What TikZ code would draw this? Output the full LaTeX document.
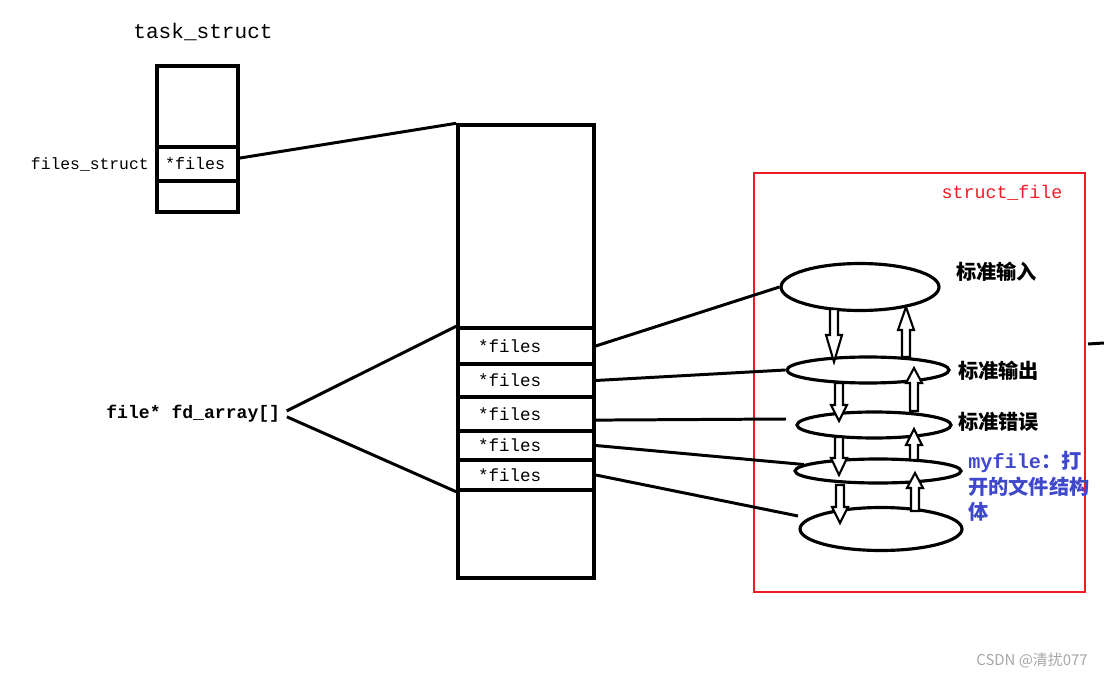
\documentclass[tikz,border=0pt]{standalone}
\usepackage{fontspec}
\setmonofont{Liberation Mono}
\newfontfamily\cjk{Noto Sans CJK SC}
\usetikzlibrary{shapes.geometric}
\definecolor{paintred}{RGB}{237,28,36}
\definecolor{paintblue}{RGB}{63,72,204}

\begin{document}
\begin{tikzpicture}[x=0.02cm, y=-0.02cm,
   box/.style={draw, line width=2pt, inner sep=0pt},
   fcell/.style={box, minimum width=2.72cm, text width=1.92cm, inner xsep=0.4cm,
                 align=left, font=\ttfamily\fontsize{10}{12}\selectfont},
   ring/.style={draw, ellipse, line width=1.8pt, inner sep=0pt},
   blockarr/.style={draw, line width=1.2pt, fill=white, line join=miter},
   link/.style={line width=1.7pt},
   cjklabel/.style={anchor=west, inner sep=0pt, font=\cjk\bfseries\fontsize{11.5}{14}\selectfont}]

\useasboundingbox (0,0) rectangle (1104,678);

\node[font=\ttfamily\fontsize{12}{14}\selectfont] (tasklabel) at (203,32) {task\_struct};
\node[box, minimum width=1.62cm, minimum height=2.92cm] (task) at (197.5,139) {};
\node[box, minimum width=1.62cm, minimum height=0.68cm, text width=1.30cm, inner xsep=0.16cm,
      align=left, font=\ttfamily\fontsize{9.5}{11}\selectfont] (sf) at (197.5,164) {*files};
\node[anchor=east, inner sep=0pt, font=\ttfamily\fontsize{9.3}{11}\selectfont] (sflabel) at (149,164) {files\_struct};

\node[box, minimum width=2.72cm, minimum height=9.06cm] (fdarr) at (526,351.5) {};
\foreach \n/\y/\h in {1/346/0.72cm, 2/380.5/0.66cm, 3/414/0.68cm, 4/445.5/0.58cm, 5/475/0.6cm}
  \node[fcell, minimum height=\h] (f\n) at (526,\y) {*files};

\node[anchor=west, inner sep=0pt, font=\ttfamily\bfseries\fontsize{10.3}{12}\selectfont] (fd) at (106,414) {file* fd\_array[]};

\draw[link] (sf.8) -- (fdarr.north west);
\draw[link, shorten <=0.14cm] (fd.east) -- (f1.north west);
\draw[link, shorten <=0.14cm] (fd.east) -- (f5.south west);

\draw[paintred, line width=1.3pt] (754,173) rectangle (1085,592);
\node[paintred, font=\ttfamily\fontsize{10.4}{12}\selectfont] (sflab) at (1002,193) {struct\_file};

\node[ring, minimum width=3.16cm, minimum height=0.94cm] (e1) at (860,287) {};
\node[ring, minimum width=3.24cm, minimum height=0.52cm] (e2) at (868,370) {};
\node[ring, minimum width=3.08cm, minimum height=0.52cm] (e3) at (874,425) {};
\node[ring, minimum width=3.32cm, minimum height=0.48cm] (e4) at (878,471) {};
\node[ring, minimum width=3.24cm, minimum height=0.86cm] (e5) at (881,529) {};

\coordinate (t3) at (786,419);
\coordinate (t5) at (798,516);
\draw[link] (f1.east) -- (e1.west);
\draw[link] (f2.east) -- (e2.west);
\draw[link] (f3.-5) -- (t3);
\draw[link] (f4.east) -- (e4.175);
\draw[link] (f5.east) -- (t5);

\foreach \x/\ya/\yh/\yb in {834/309/335/362, 839/383/405/421, 839/437/458/475, 840/485/507/523,
                            906/357/330/307, 914/411/383/368, 914/460/445/429, 915/511/488/473}
  \draw[blockarr] ({\x-4},\ya) -- ({\x-4},\yh) -- ({\x-8},\yh) -- (\x,\yb)
                  -- ({\x+8},\yh) -- ({\x+4},\yh) -- ({\x+4},\ya) -- cycle;

\node[cjklabel] (in) at (956,272) {标准输入};
\node[cjklabel] (out) at (958,371) {标准输出};
\node[cjklabel] (err) at (958,422) {标准错误};
\node[anchor=north west, inner sep=0pt, align=left, paintblue,
      font=\cjk\bfseries\fontsize{11.5}{14.5}\selectfont] (my) at (968,451)
     {{\ttfamily\bfseries myfile}：打\\开的文件结构\\体};

\draw[link] (1088,344) -- (1104,343);
\node[gray!70, font=\cjk\fontsize{8.5}{10}\selectfont] (mark) at (1032,661) {CSDN @清扰077};

\end{tikzpicture}
\end{document}
